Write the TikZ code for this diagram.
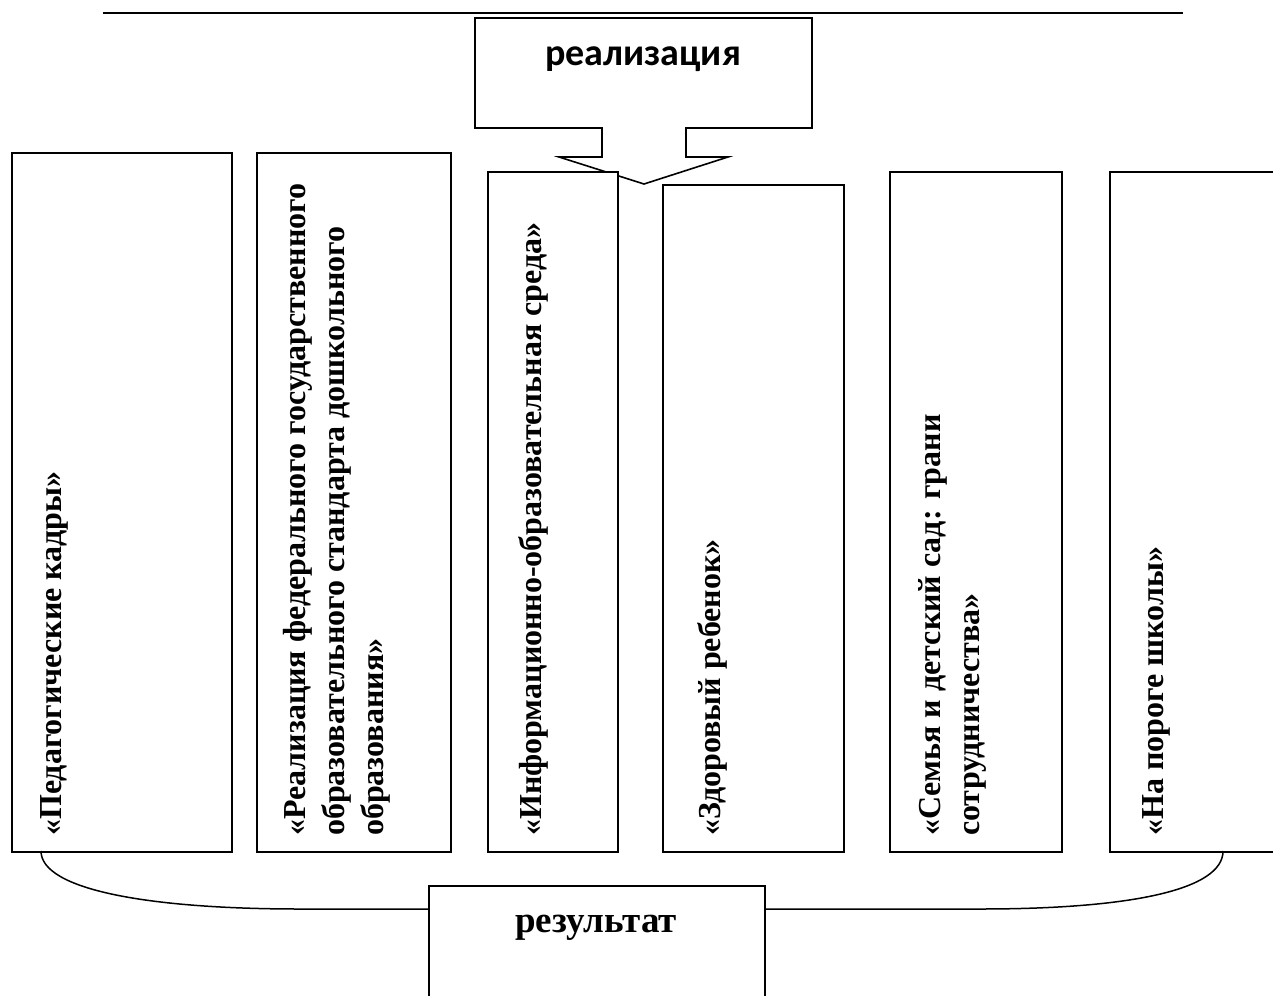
\documentclass[tikz,border=0pt]{standalone}
\usepackage{fontspec}
\setmainfont{Liberation Serif}
\newfontfamily\calloutfont{Carlito}
\tikzset{
    box/.style={draw, fill=white, line width=1.6pt, inner sep=0pt},
    topic/.style={rotate=90, anchor=north west, align=left, inner sep=0pt,
        font=\fontsize{32}{39}\selectfont\bfseries},
    link/.style={line width=1.5pt},
}
\newcommand\TopicBox[6]{%
    \node[box, anchor=north west, minimum width=#4-#2, minimum height=851-#3] (#1) at (#2,#3) {};
    \node[topic] (#1-text) at (#5,836) {#6};
}

\begin{document}
\begin{tikzpicture}[x=1pt,y=-1pt]
    \clip (0,0) rectangle (1273,995);
    \draw[line width=2.2pt] (103,13) -- (1183,13);
    % callout
    \draw[box] (475,18) -- (812,18) -- (812,128) -- (686,128) -- (686,157) -- (728,157)
        -- (644,184) -- (559,157) -- (602,157) -- (602,128) -- (475,128) -- cycle;
    \node[font=\calloutfont\bfseries\fontsize{38}{46}\selectfont, anchor=base] (impl) at (643,66) {реализация};
    % topics
    \TopicBox{kadry}{11}{152}{231}{40}{«Педагогические кадры»}
    \TopicBox{fgos}{256}{152}{450}{283}{«Реализация федерального государственного\\образовательного стандарта дошкольного\\образования»}
    \TopicBox{info}{487}{171}{617}{518}{«Информационно-образовательная среда»}
    \TopicBox{health}{662}{184}{843}{697}{«Здоровый ребенок»}
    \TopicBox{family}{889}{171}{1061}{918}{«Семья и детский сад: грани\\сотрудничества»}
    \TopicBox{school}{1109}{171}{1300}{1142}{«На пороге школы»}
    % result
    \node[box, anchor=north west, minimum width=336, minimum height=130] (res) at (428,885) {};
    \node[font=\fontsize{37}{44}\selectfont\bfseries, anchor=base] (res-text) at (596,932) {результат};
    \coordinate (footL) at (41,851);
    \coordinate (footR) at (1223,851);
    \draw[link] (footL) .. controls +(0,39) and +(-150,0) .. (300,909) -- (res.west |- 0,909);
    \draw[link] (footR) .. controls +(0,39) and +(150,0) .. (980,909) -- (res.east |- 0,909);
\end{tikzpicture}
\end{document}
